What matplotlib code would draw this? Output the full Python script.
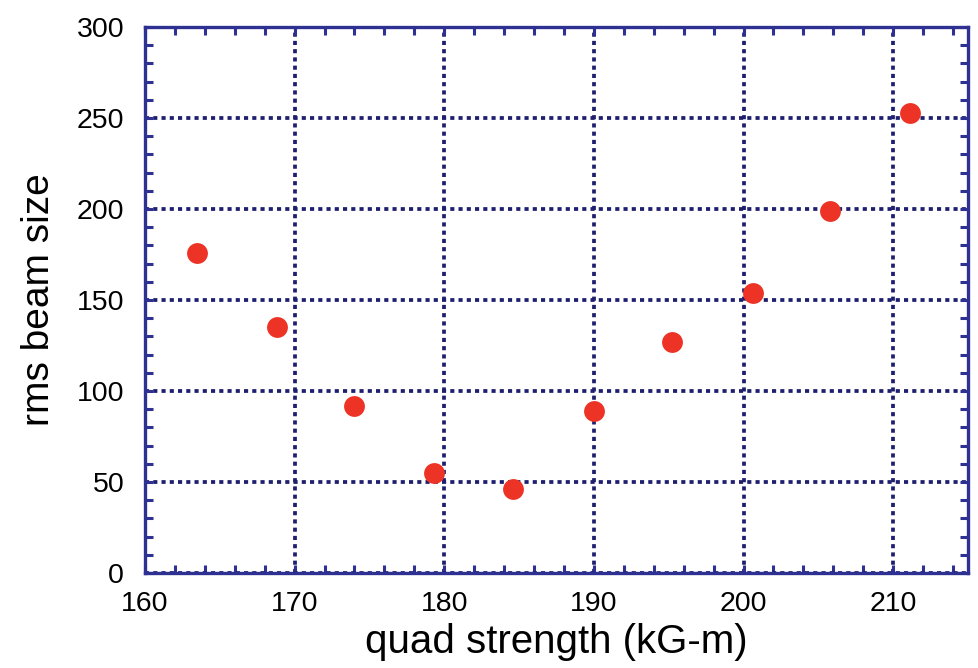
import numpy as np
import matplotlib.pyplot as plt
from matplotlib.ticker import MultipleLocator

# quad scan: rms beam size vs. quadrupole strength
quad_strength = [163.5, 168.8, 174.0, 179.3, 184.6, 190.0, 195.2, 200.6, 205.8, 211.1]
beam_size = [176, 135, 92, 55, 46, 89, 127, 154, 199, 253]

axis_color = "#2e3192"
grid_color = "#1f1f70"
point_color = "#ec3326"

plt.rcParams["font.family"] = ["Liberation Sans", "DejaVu Sans"]

fig = plt.figure(figsize=(9.79, 6.68), dpi=100)
ax = fig.add_axes([0.1481, 0.1422, 0.8407, 0.8174])

ax.plot(quad_strength, beam_size, "o", color=point_color,
        markersize=15, markeredgewidth=0, zorder=3, clip_on=False)

ax.set_xlim(160, 215)
ax.set_ylim(0, 300)
ax.xaxis.set_major_locator(MultipleLocator(10))
ax.xaxis.set_minor_locator(MultipleLocator(2))
ax.yaxis.set_major_locator(MultipleLocator(50))
ax.yaxis.set_minor_locator(MultipleLocator(10))

ax.grid(True, which="major", color=grid_color, linewidth=2.7,
        linestyle=(0, (1.1, 1.1)))
ax.set_axisbelow(True)

for side in ax.spines.values():
    side.set_color(axis_color)
    side.set_linewidth(2.4)

ax.tick_params(which="both", direction="in", top=True, right=True,
               color=axis_color, width=2.2, labelsize=20.5, labelcolor="black")
ax.tick_params(which="major", length=5.5, pad=13)
ax.tick_params(which="minor", length=5.5)
ax.tick_params(axis="y", pad=15)

ax.set_xlabel("quad strength (kG-m)", fontsize=29, labelpad=4)
ax.set_ylabel("rms beam size", fontsize=28, labelpad=14)

fig.savefig("out.png", dpi=100)
